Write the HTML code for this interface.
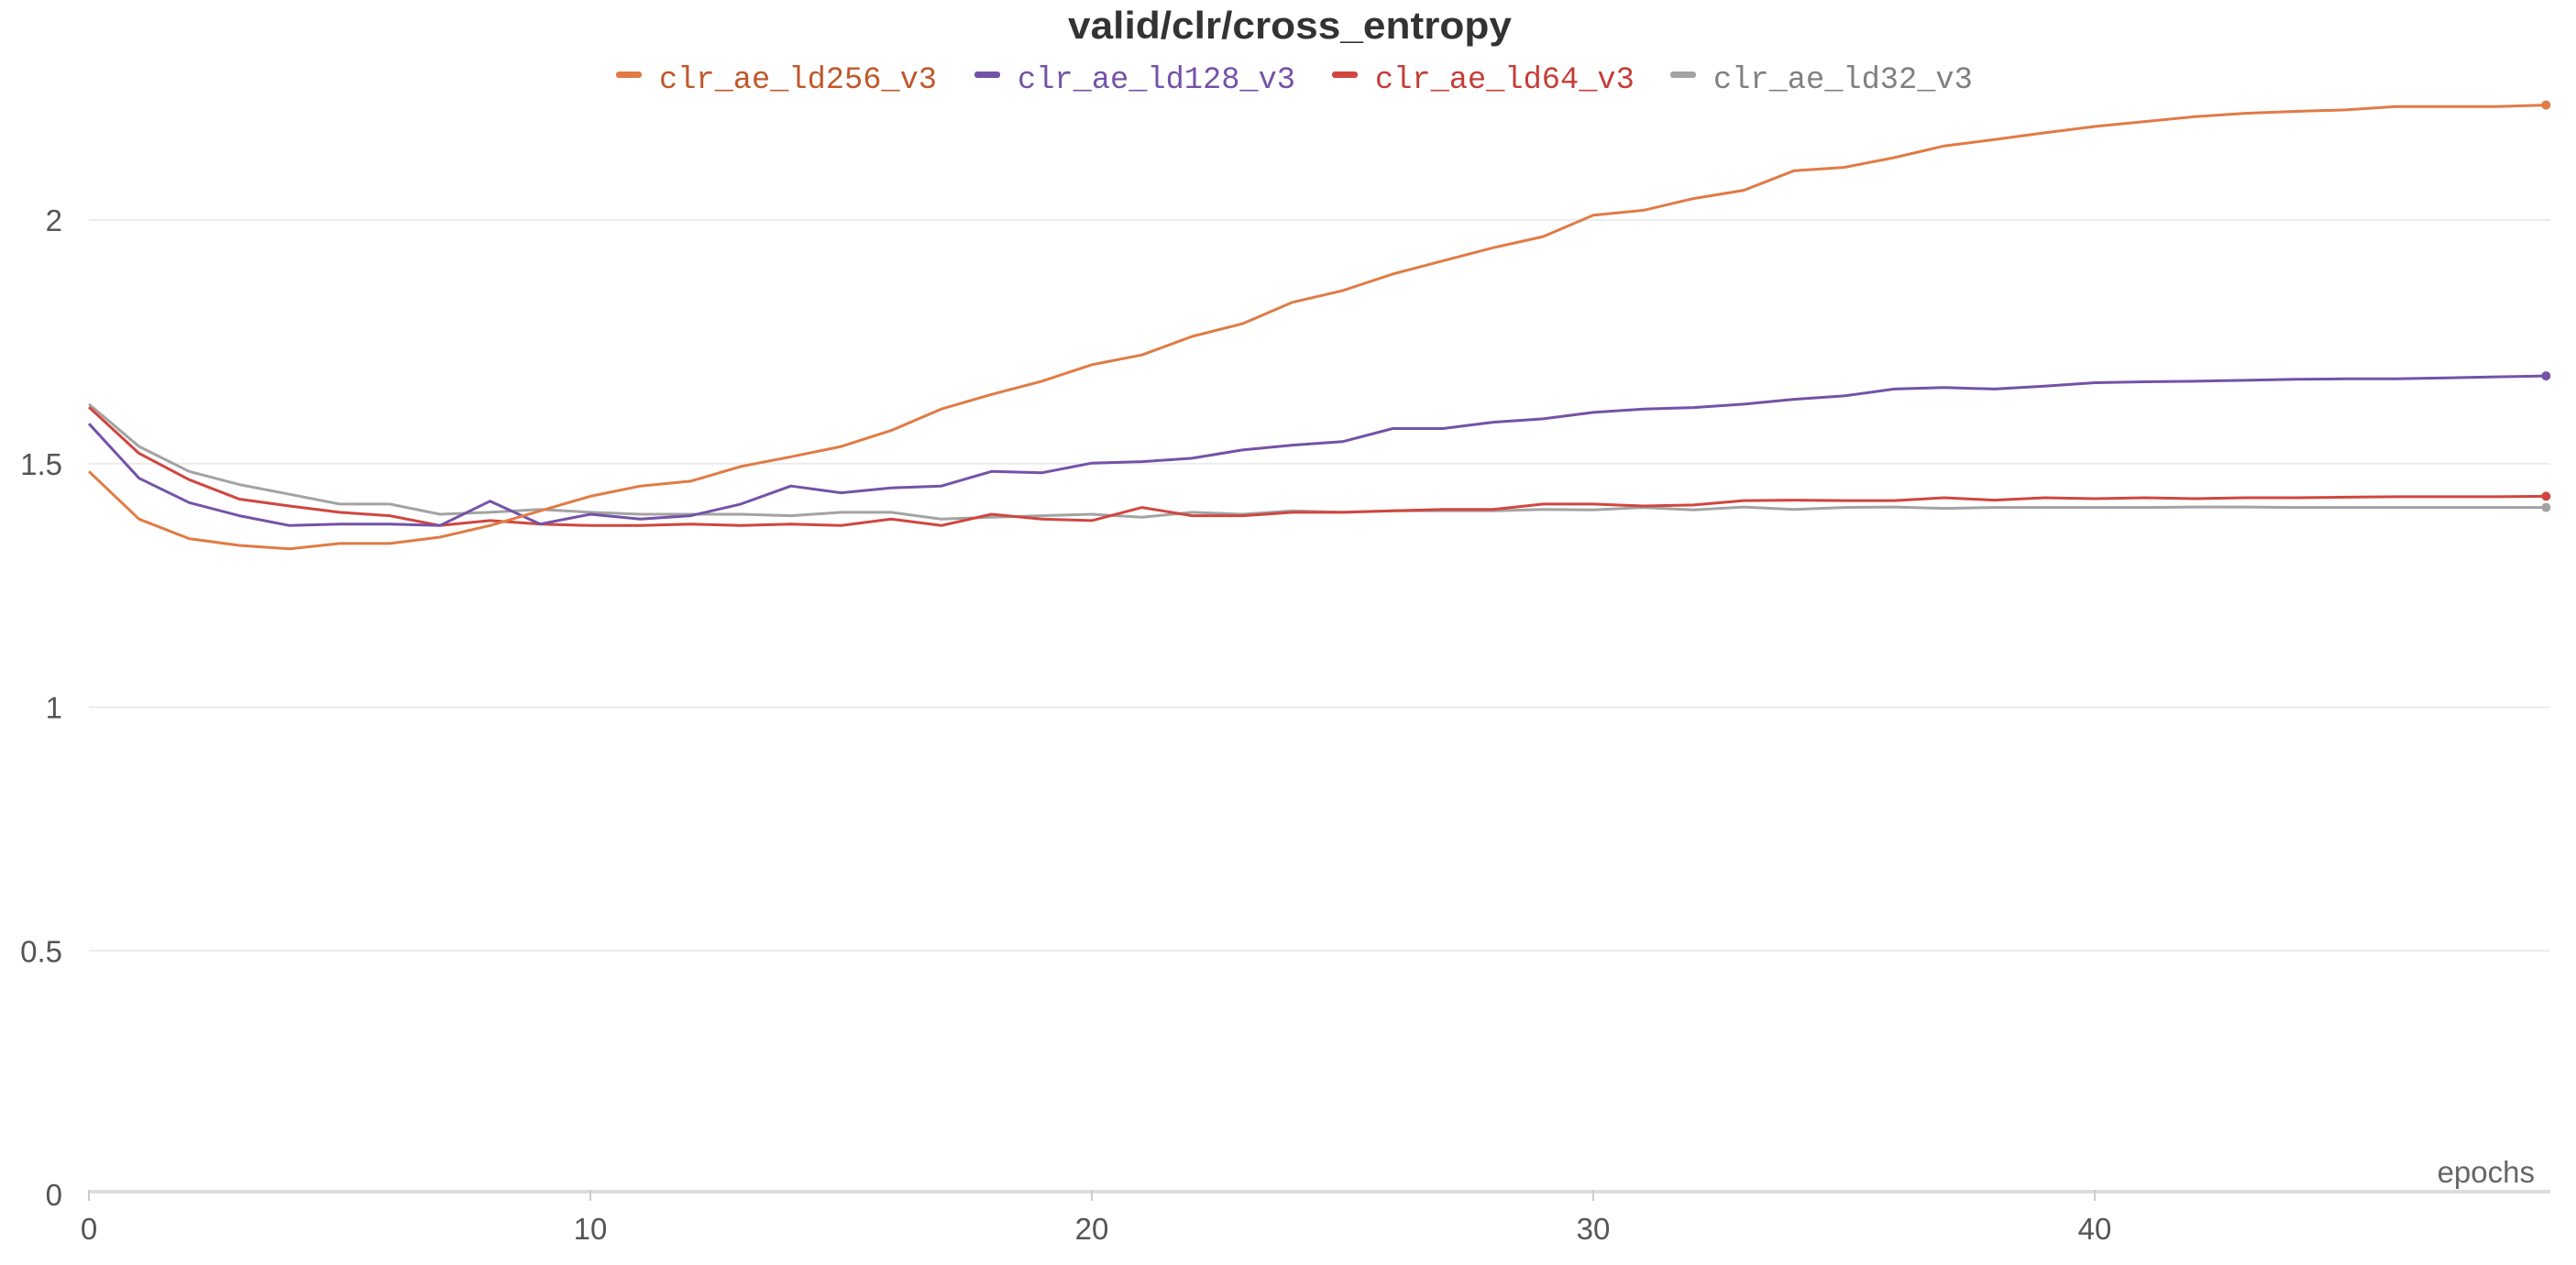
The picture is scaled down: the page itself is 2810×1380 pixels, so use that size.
<!DOCTYPE html>
<html><head><meta charset="utf-8"><style>
html,body{margin:0;padding:0;background:#fff;}
svg{display:block;font-family:"Liberation Sans",sans-serif;}
</style></head><body>
<svg id="chart" width="2810" height="1380" viewBox="0 0 2810 1380" xmlns="http://www.w3.org/2000/svg">
<text x="1407" y="42" text-anchor="middle" font-size="42" font-weight="bold" fill="#333" textLength="484" lengthAdjust="spacingAndGlyphs">valid/clr/cross_entropy</text>
<g id="grid"></g>
<g id="axes"></g>
<g id="series"></g>
<g id="legend"></g>
</svg>
<script>
const epochs = Array.from({length:50},(_,i)=>i);
const ld256 = [1.484,1.386,1.346,1.332,1.325,1.336,1.336,1.349,1.373,1.403,1.433,1.454,1.464,1.494,1.514,1.535,1.568,1.612,1.642,1.669,1.703,1.723,1.761,1.787,1.831,1.855,1.889,1.916,1.943,1.966,2.010,2.020,2.044,2.061,2.101,2.108,2.128,2.152,2.165,2.179,2.192,2.202,2.212,2.219,2.223,2.226,2.233,2.233,2.233,2.236];
const ld128 = [1.582,1.470,1.420,1.393,1.373,1.376,1.376,1.373,1.423,1.376,1.396,1.386,1.393,1.417,1.454,1.440,1.450,1.454,1.484,1.481,1.501,1.504,1.511,1.528,1.538,1.545,1.572,1.572,1.585,1.592,1.605,1.612,1.615,1.622,1.632,1.639,1.653,1.656,1.653,1.659,1.666,1.668,1.669,1.671,1.673,1.674,1.674,1.676,1.678,1.680];
const ld64 = [1.616,1.521,1.467,1.427,1.413,1.400,1.393,1.373,1.383,1.376,1.373,1.373,1.376,1.373,1.376,1.373,1.386,1.373,1.396,1.386,1.383,1.410,1.393,1.393,1.400,1.400,1.403,1.406,1.406,1.417,1.417,1.413,1.415,1.424,1.425,1.424,1.424,1.430,1.425,1.430,1.428,1.430,1.428,1.430,1.430,1.431,1.432,1.432,1.432,1.433];
const ld32 = [1.622,1.535,1.484,1.457,1.437,1.417,1.417,1.396,1.400,1.406,1.400,1.396,1.396,1.396,1.393,1.400,1.400,1.386,1.390,1.393,1.396,1.390,1.400,1.396,1.403,1.400,1.403,1.403,1.403,1.406,1.405,1.410,1.405,1.411,1.406,1.410,1.411,1.408,1.410,1.410,1.410,1.410,1.411,1.411,1.410,1.410,1.410,1.410,1.410,1.410];
const yTicks = [0,0.5,1,1.5,2];
const yTickLabels = ["0","0.5","1","1.5","2"];
const xTicks = [0,10,20,30,40];
const xTickLabels = ["0","10","20","30","40"];
const seriesNames = ["clr_ae_ld256_v3","clr_ae_ld128_v3","clr_ae_ld64_v3","clr_ae_ld32_v3"];

const NS="http://www.w3.org/2000/svg";
const X0=97, XS=(2285-97)/40, Y0=1303, YS=(1303-240)/2;
const xs=v=>X0+v*XS, ys=v=>Y0-v*YS;
function mk(tag,attrs,parent){const e=document.createElementNS(NS,tag);for(const k in attrs)e.setAttribute(k,attrs[k]);parent.appendChild(e);return e;}
const grid=document.getElementById('grid'),axes=document.getElementById('axes'),ser=document.getElementById('series'),leg=document.getElementById('legend');
yTicks.forEach((t,i)=>{
  if(t>0){const l=mk('line',{x1:97,x2:2782,y1:ys(t),y2:ys(t),stroke:'#ececec','stroke-width':2},grid);
  
  }
  const tx=mk('text',{x:68,y:ys(t)+12,'text-anchor':'end','font-size':33,fill:'#555'},axes);
  tx.textContent=yTickLabels[i];
  
  
});
const ax=mk('line',{x1:97,x2:2782,y1:1300,y2:1300,stroke:'#dcdcdc','stroke-width':4},axes);


xTicks.forEach((t,i)=>{
  const tk=mk('line',{x1:xs(t),x2:xs(t),y1:1298,y2:1310,stroke:'#ccc','stroke-width':2},axes);
  
  
  const tx=mk('text',{x:xs(t),y:1352,'text-anchor':'middle','font-size':33,fill:'#555'},axes);
  tx.textContent=xTickLabels[i];
  
  
});
const xt=mk('text',{x:2765,y:1290,'text-anchor':'end','font-size':33,fill:'#666'},axes);
xt.textContent='epochs';



const data=[ld256,ld128,ld64,ld32];
const colors=['#E07B45','#7452A8','#D0463F','#A3A3A3'];
const textColors=['#C0582A','#7452A8','#C53D37','#808080'];
[3,2,1,0].forEach(s=>{
  const d=data[s].map((v,i)=>(i?'L':'M')+xs(epochs[i]).toFixed(1)+','+ys(v).toFixed(1)).join('');
  const p=mk('path',{d:d,fill:'none',stroke:colors[s],'stroke-width':3,'stroke-linejoin':'round'},ser);
  
  
  const n=data[s].length-1;
  const c=mk('circle',{cx:xs(epochs[n]),cy:ys(data[s][n]),r:5,fill:colors[s]},ser);
  
  
});
const legX=[672,1063,1453,1822];
seriesNames.forEach((nm,s)=>{
  const g=mk('g',{},leg);
  
  
  mk('rect',{x:legX[s],y:78,width:28,height:7,rx:3,fill:colors[s]},g);
  const t=mk('text',{x:legX[s]+47,y:96,fill:textColors[s],textLength:nm.length*20.2,lengthAdjust:'spacingAndGlyphs'},g);
  t.setAttribute('style','font-family:"Liberation Mono",monospace;font-size:34px;');
  t.textContent=nm;
});
</script>
</body></html>
